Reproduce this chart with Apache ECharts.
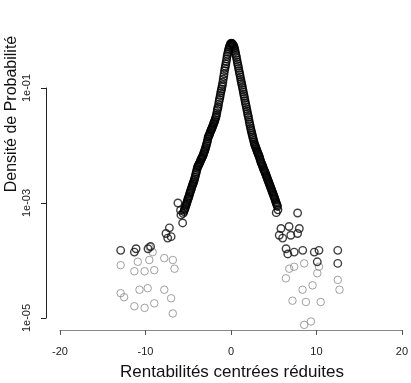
<!DOCTYPE html>
<html><head><meta charset="utf-8">
<script src="https://cdn.jsdelivr.net/npm/echarts@6/dist/echarts.min.js"></script>
<style>html,body{margin:0;padding:0;background:#fff}#c{width:411px;height:383px}</style>
</head><body><div id="c"></div>
<script>
// Main density curve (left side of peak)
const leftX = [-0.05,-0.15,-0.25,-0.35,-0.45,-0.55,-0.65,-0.75,-0.85,-0.95,-1.05,-1.15,-1.25,-1.35,-1.45,-1.55,-1.65,-1.75,-1.85,-1.95,-2.05,-2.15,-2.25,-2.35,-2.45,-2.55,-2.65,-2.75,-2.85,-2.95,-3.05,-3.15,-3.25,-3.35,-3.45,-3.55,-3.65,-3.75,-3.85,-3.95,-4.05,-4.15,-4.25,-4.35,-4.45,-4.55,-4.65,-4.75,-4.85,-4.95,-5.05,-5.15,-5.25,-5.35,-5.45,-5.6];
const leftY = [0.589,0.537,0.479,0.417,0.355,0.288,0.240,0.200,0.158,0.126,0.105,0.089,0.074,0.063,0.052,0.044,0.037,0.0316,0.0282,0.0257,0.0234,0.0214,0.0195,0.0182,0.0166,0.0151,0.0141,0.0120,0.0105,0.0093,0.0083,0.0076,0.0068,0.0063,0.0059,0.0055,0.0050,0.0047,0.0044,0.0040,0.00347,0.00302,0.00263,0.00234,0.00214,0.00195,0.00174,0.00158,0.00141,0.00126,0.00115,0.00102,0.00093,0.00083,0.00076,0.00066];
const leftX2 = [-0.1,-0.2,-0.3,-0.4,-0.5,-0.6,-0.7,-0.8,-0.9,-1.0,-1.1,-1.2,-1.3,-1.4,-1.5,-1.6,-1.7,-1.8,-1.9,-2.0,-2.1,-2.2,-2.3,-2.4,-2.5,-2.6,-2.7,-2.8,-2.9,-3.0,-3.1,-3.2,-3.3,-3.4,-3.5,-3.6,-3.7,-3.8,-3.9,-4.0,-4.1,-4.2,-4.3,-4.4,-4.5,-4.6,-4.7,-4.8,-4.9,-5.0,-5.1,-5.2,-5.3,-5.4,-5.5];
const leftY2 = [0.56,0.51,0.45,0.385,0.32,0.262,0.22,0.177,0.142,0.114,0.096,0.082,0.068,0.058,0.047,0.041,0.034,0.030,0.0268,0.0245,0.0222,0.0205,0.0188,0.0173,0.0158,0.0146,0.0131,0.0112,0.0099,0.0088,0.0079,0.0072,0.0066,0.0061,0.0057,0.0052,0.0049,0.0045,0.0042,0.0037,0.00324,0.00282,0.00248,0.00224,0.00204,0.00184,0.00166,0.00149,0.00133,0.00120,0.00108,0.00097,0.00088,0.00079,0.00071];
// Main density curve (right side of peak)
const rightX = [0.05,0.15,0.25,0.35,0.45,0.55,0.65,0.75,0.85,0.95,1.05,1.15,1.25,1.35,1.45,1.55,1.65,1.75,1.85,1.95,2.05,2.15,2.25,2.35,2.45,2.55,2.65,2.75,2.85,2.95,3.05,3.15,3.25,3.35,3.45,3.55,3.65,3.75,3.85,3.95,4.05,4.15,4.25,4.35,4.45,4.55,4.65,4.75,4.85,4.95,5.05,5.15,5.25,5.35,5.45,5.3,5.5];
const rightY = [0.60,0.589,0.562,0.525,0.468,0.398,0.339,0.282,0.240,0.200,0.170,0.141,0.120,0.102,0.085,0.072,0.060,0.051,0.043,0.036,0.031,0.0257,0.0219,0.0186,0.0162,0.0141,0.0123,0.0107,0.0098,0.0089,0.0081,0.0074,0.0068,0.0062,0.0055,0.0050,0.0046,0.0042,0.0038,0.00355,0.00324,0.00295,0.00269,0.00245,0.00224,0.00204,0.00186,0.00170,0.00155,0.00141,0.00129,0.00117,0.00105,0.00095,0.00087,0.00068,0.00076];
const rightX2 = [0.1,0.2,0.3,0.4,0.5,0.6,0.7,0.8,0.9,1.0,1.1,1.2,1.3,1.4,1.5,1.6,1.7,1.8,1.9,2.0,2.1,2.2,2.3,2.4,2.5,2.6,2.7,2.8,2.9,3.0,3.1,3.2,3.3,3.4,3.5,3.6,3.7,3.8,3.9,4.0,4.1,4.2,4.3,4.4,4.5,4.6,4.7,4.8,4.9,5.0,5.1,5.2,5.3,5.4];
const rightY2 = [0.595,0.575,0.545,0.497,0.432,0.367,0.309,0.260,0.219,0.184,0.155,0.130,0.111,0.093,0.078,0.066,0.055,0.047,0.0395,0.0334,0.0282,0.0237,0.0202,0.0174,0.0151,0.0132,0.0115,0.0102,0.0093,0.0085,0.0077,0.0071,0.0065,0.0058,0.0052,0.0048,0.0044,0.0040,0.00367,0.00339,0.00309,0.00282,0.00257,0.00234,0.00214,0.00195,0.00178,0.00162,0.00148,0.00135,0.00123,0.00111,0.00100,0.00091];
// Tail points (dark, overlapping)
const tailDarkX = [-12.9,-11.3,-11.1,-9.7,-9.4,-7.6,-7.4,-7.0,-5.65,-6.2,-5.85,-7.2,-5.9,5.85,6.8,7.8,8.0,6.05,5.65,7.0,6.45,6.65,7.4,8.4,9.75,10.3,12.5,12.5,10.1,7.8];
const tailDarkY = [1.5e-4,1.4e-4,1.6e-4,1.6e-4,1.75e-4,2.95e-4,2.45e-4,2.6e-4,4.5e-4,1.0e-3,6.2e-4,3.7e-4,7.5e-4,3.6e-4,3.9e-4,2.95e-4,3.6e-4,2.45e-4,2.75e-4,2.75e-4,1.6e-4,1.3e-4,1.4e-4,1.5e-4,1.4e-4,1.5e-4,1.5e-4,8.9e-5,9.5e-5,6.7e-4];
// Tail points (single, faint)
const tailLightX = [-9.55,-9.16,-7.8,-6.8,-9.55,-10.9,-11.3,-10.1,-8.97,-6.6,-12.9,-10.7,-9.74,-7.8,-7.0,-12.9,-12.5,-11.3,-10.1,-8.97,-6.8,8.57,6.82,7.4,10.1,6.43,9.55,12.5,8.38,12.7,7.2,8.77,10.5,8.57,9.36,10.3];
const tailLightY = [1.73e-4,1.4e-4,1.1e-4,1.02e-4,1.02e-4,9.5e-5,6.5e-5,6.5e-5,6.8e-5,7.2e-5,8.3e-5,3.1e-5,3.3e-5,3.1e-5,2.2e-5,2.7e-5,2.3e-5,1.6e-5,1.5e-5,1.8e-5,1.2e-5,8.9e-5,7.2e-5,7.8e-5,6.0e-5,4.9e-5,3.7e-5,4.6e-5,3.1e-5,3.1e-5,2.0e-5,1.9e-5,1.9e-5,7.6e-6,8.7e-6,7.8e-5];
const xTicks = [-20,-10,0,10,20];
const yTicks = [1e-5,1e-3,1e-1];
const xTitle = 'Rentabilités centrées réduites';
const yTitle = 'Densité de Probabilité';

function pairs(xs, ys){ return xs.map((x,i)=>[x, ys[i]]); }
const FONT = '"Liberation Sans", Arial, sans-serif';
const chart = echarts.init(document.getElementById('c'), null, {renderer:'canvas'});
const circle = (col, bw) => ({type:'scatter', symbol:'circle', symbolSize:7.5, clip:false,
  itemStyle:{color:'transparent', borderColor:col, borderWidth:bw}, animation:false});
chart.setOption({
  animation:false,
  backgroundColor:'#fff',
  grid:{left:60, right:9, top:88, bottom:65},
  xAxis:{type:'value', min:xTicks[0], max:xTicks[xTicks.length-1], interval:10, offset:12,
    axisLine:{onZero:false, lineStyle:{color:'#888', width:1}},
    axisTick:{length:5, lineStyle:{color:'#555'}},
    axisLabel:{margin:16, color:'#222', fontSize:11, fontFamily:FONT},
    splitLine:{show:false}},
  yAxis:{type:'log', min:yTicks[0], max:yTicks[yTicks.length-1], offset:14,
    axisLine:{onZero:false, lineStyle:{color:'#222', width:1}},
    axisTick:{length:5, customValues:yTicks, lineStyle:{color:'#222'}},
    axisLabel:{customValues:yTicks, rotate:90, margin:14, color:'#222', fontSize:11, fontFamily:FONT,
      formatter:(v)=>{const e=Math.round(Math.log10(v)); return '1e-'+String(-e).padStart(2,'0');}},
    splitLine:{show:false}},
  series:[
    Object.assign(circle('#888', 1), {data:pairs(tailLightX, tailLightY)}),
    Object.assign(circle('#111', 1.4), {data:pairs(tailDarkX, tailDarkY)}),
    Object.assign(circle('#000', 1.4), {data:pairs(leftX, leftY).concat(pairs(leftX2, leftY2))}),
    Object.assign(circle('#000', 1.4), {data:pairs(rightX, rightY).concat(pairs(rightX2, rightY2))})
  ],
  graphic:[
    {type:'text', x:232, y:372, style:{text:xTitle, fontSize:17, fontFamily:FONT, fill:'#111', textAlign:'center', textVerticalAlign:'middle'}},
    {type:'text', x:12, y:114, rotation:Math.PI/2, style:{text:yTitle, fontSize:16, fontFamily:FONT, fill:'#111', textAlign:'center', textVerticalAlign:'middle'}}
  ]
});
</script></body></html>
